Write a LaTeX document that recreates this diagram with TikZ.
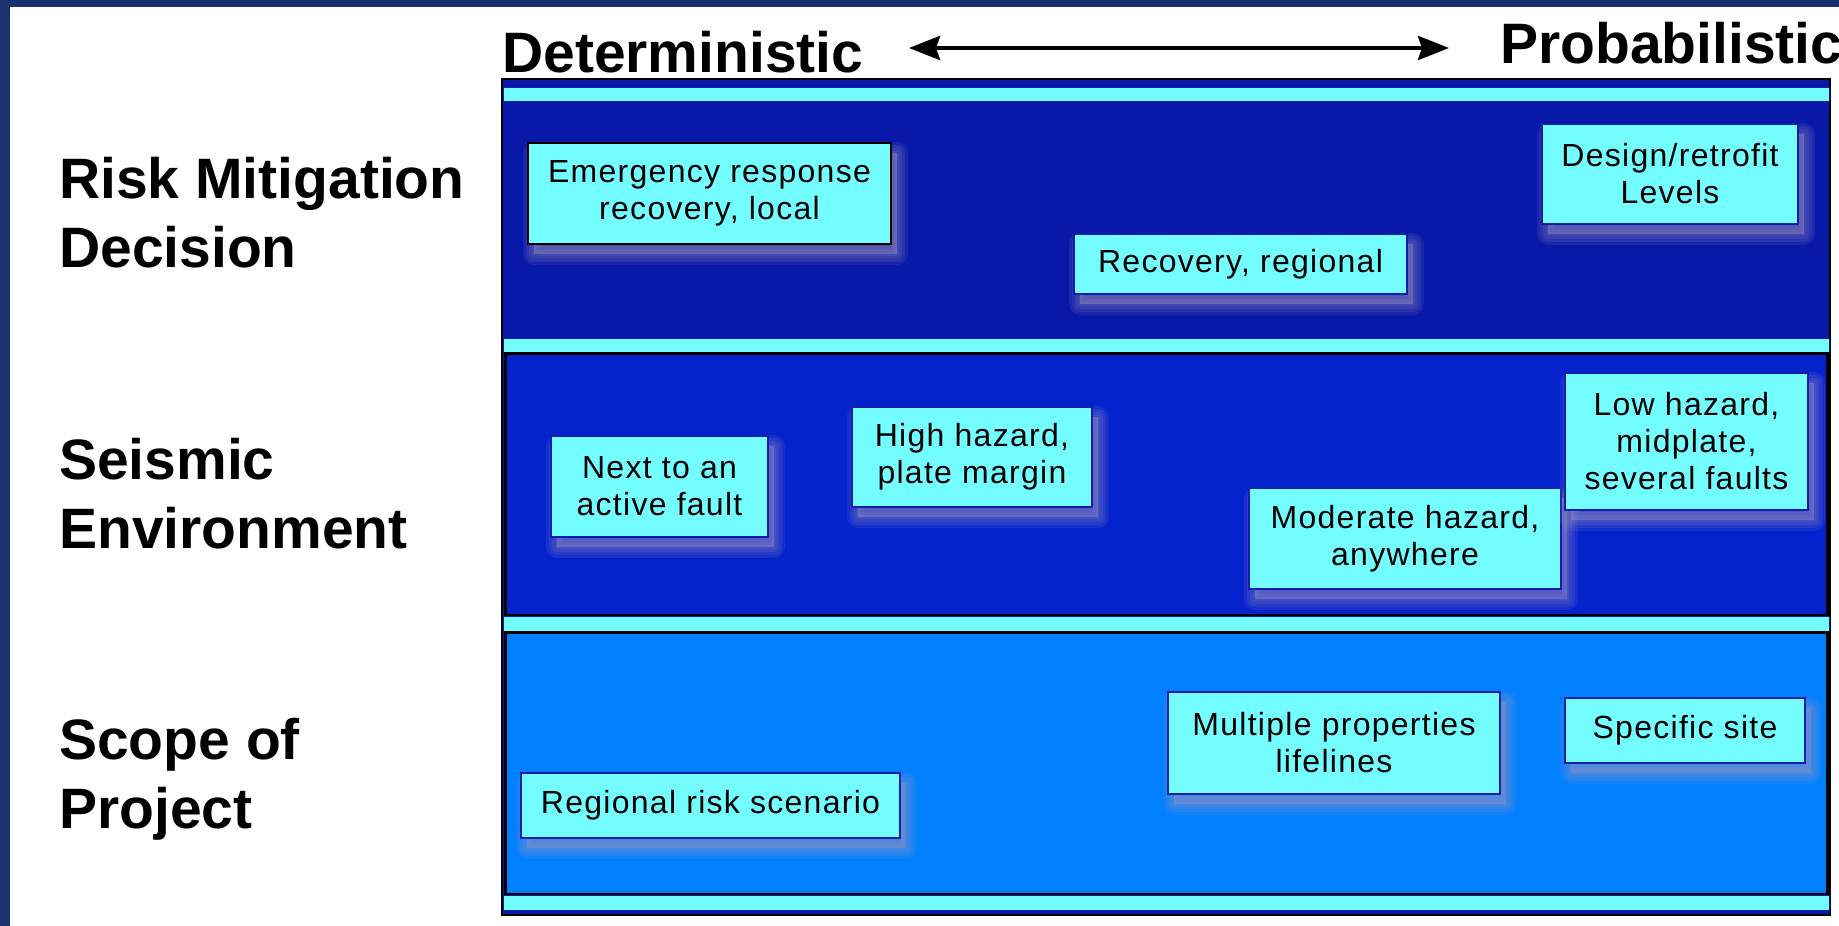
\documentclass[tikz,border=0pt]{standalone}
\usepackage{fontspec}
\setmainfont{Liberation Sans}
\newfontfamily\boxfont[LetterSpace=4]{Liberation Sans}
\usetikzlibrary{arrows.meta}
\definecolor{slide}{RGB}{28,48,112}
\definecolor{rowa}{RGB}{8,24,168}
\definecolor{rowb}{RGB}{5,35,205}
\definecolor{rowc}{RGB}{0,128,255}
\definecolor{aqua}{RGB}{115,253,255}
\definecolor{edge}{RGB}{20,30,170}
\definecolor{shade}{RGB}{160,150,190}
\tikzset{lab/.style  = {anchor=base west, align=left, inner sep=0pt, font=\bfseries\fontsize{57}{69}\selectfont},
         hd/.style   = {anchor=base west, inner sep=0pt, font=\bfseries\fontsize{57}{60}\selectfont},
         glow/.style = {preaction={fill=shade, draw=shade, line width=#1, opacity=.12,
                                   line join=round, transform canvas={shift={(6pt,-10pt)}}}},
         bx/.style   = {draw=edge, fill=aqua, line width=2pt, align=center, inner sep=0pt,
                        font=\boxfont\fontsize{32}{37}\selectfont,
                        glow=22pt, glow=16pt, glow=10pt, glow=4pt},
         band/.style = {fill=aqua, draw=edge, line width=1pt}}

\begin{document}
\begin{tikzpicture}[x=1pt, y=-1pt]
    \useasboundingbox (0,0) rectangle (1839,926);
    \fill[slide] (0,0) rectangle (1839,926);
    \fill[white] (10,7) rectangle (1839,926);
    % frame and the three rows
    \draw[fill=rowa, line width=2pt] (502,79) rectangle (1830,915);
    \draw[band] (503,87) rectangle (1829,101);
    \draw[band] (503,338) rectangle (1829,352);
    \draw[fill=rowb, line width=3pt] (505,353) rectangle (1827,615);
    \draw[band] (503,616) rectangle (1829,631);
    \draw[fill=rowc, line width=3pt] (505,632) rectangle (1827,894);
    \draw[band] (503,895) rectangle (1829,910);
    % header
    \node[hd] (det)  at (502,72) {Deterministic};
    \node[hd] (prob) at (1500,63) {Probabilistic};
    \coordinate (al) at (909,48); \coordinate (ar) at (1449,48);
    \draw[{Stealth[length=31pt, width=24pt, inset=4pt]}-{Stealth[length=31pt, width=24pt, inset=4pt]}, line width=4.5pt] (al) -- (ar);
    % row labels (anchored on the last line)
    \node[lab] (risk)  at (59,267) {Risk Mitigation\\Decision};
    \node[lab] (seis)  at (59,548) {Seismic\\Environment};
    \node[lab] (scope) at (59,828) {Scope of\\Project};
    % row 1
    \node[bx, draw=black, minimum width=363, minimum height=101] (emer) at (709.5,193.5) {Emergency response\\recovery, local};
    \node[bx, minimum width=333, minimum height=60]  (recreg) at (1240.5,264) {Recovery, regional};
    \node[bx, minimum width=256, minimum height=100] (design) at (1670,174) {Design/retrofit\\Levels};
    % row 2
    \node[bx, minimum width=217, minimum height=101] (fault) at (659.5,486.5) {Next to an\\active fault};
    \node[bx, minimum width=240, minimum height=100] (high)  at (972,457) {High hazard,\\plate margin};
    \node[bx, minimum width=312, minimum height=101] (moder) at (1405,538.5) {Moderate hazard,\\anywhere};
    \node[bx, minimum width=243, minimum height=137] (low)   at (1686.5,441.5) {Low hazard,\\midplate,\\several faults};
    % row 3
    \node[bx, minimum width=379, minimum height=65]  (regrisk) at (710.5,805.5) {Regional risk scenario};
    \node[bx, minimum width=332, minimum height=102] (multi)   at (1334,743) {Multiple properties\\lifelines};
    \node[bx, minimum width=240, minimum height=65]  (site)    at (1685,730.5) {Specific site};
\end{tikzpicture}
\end{document}
